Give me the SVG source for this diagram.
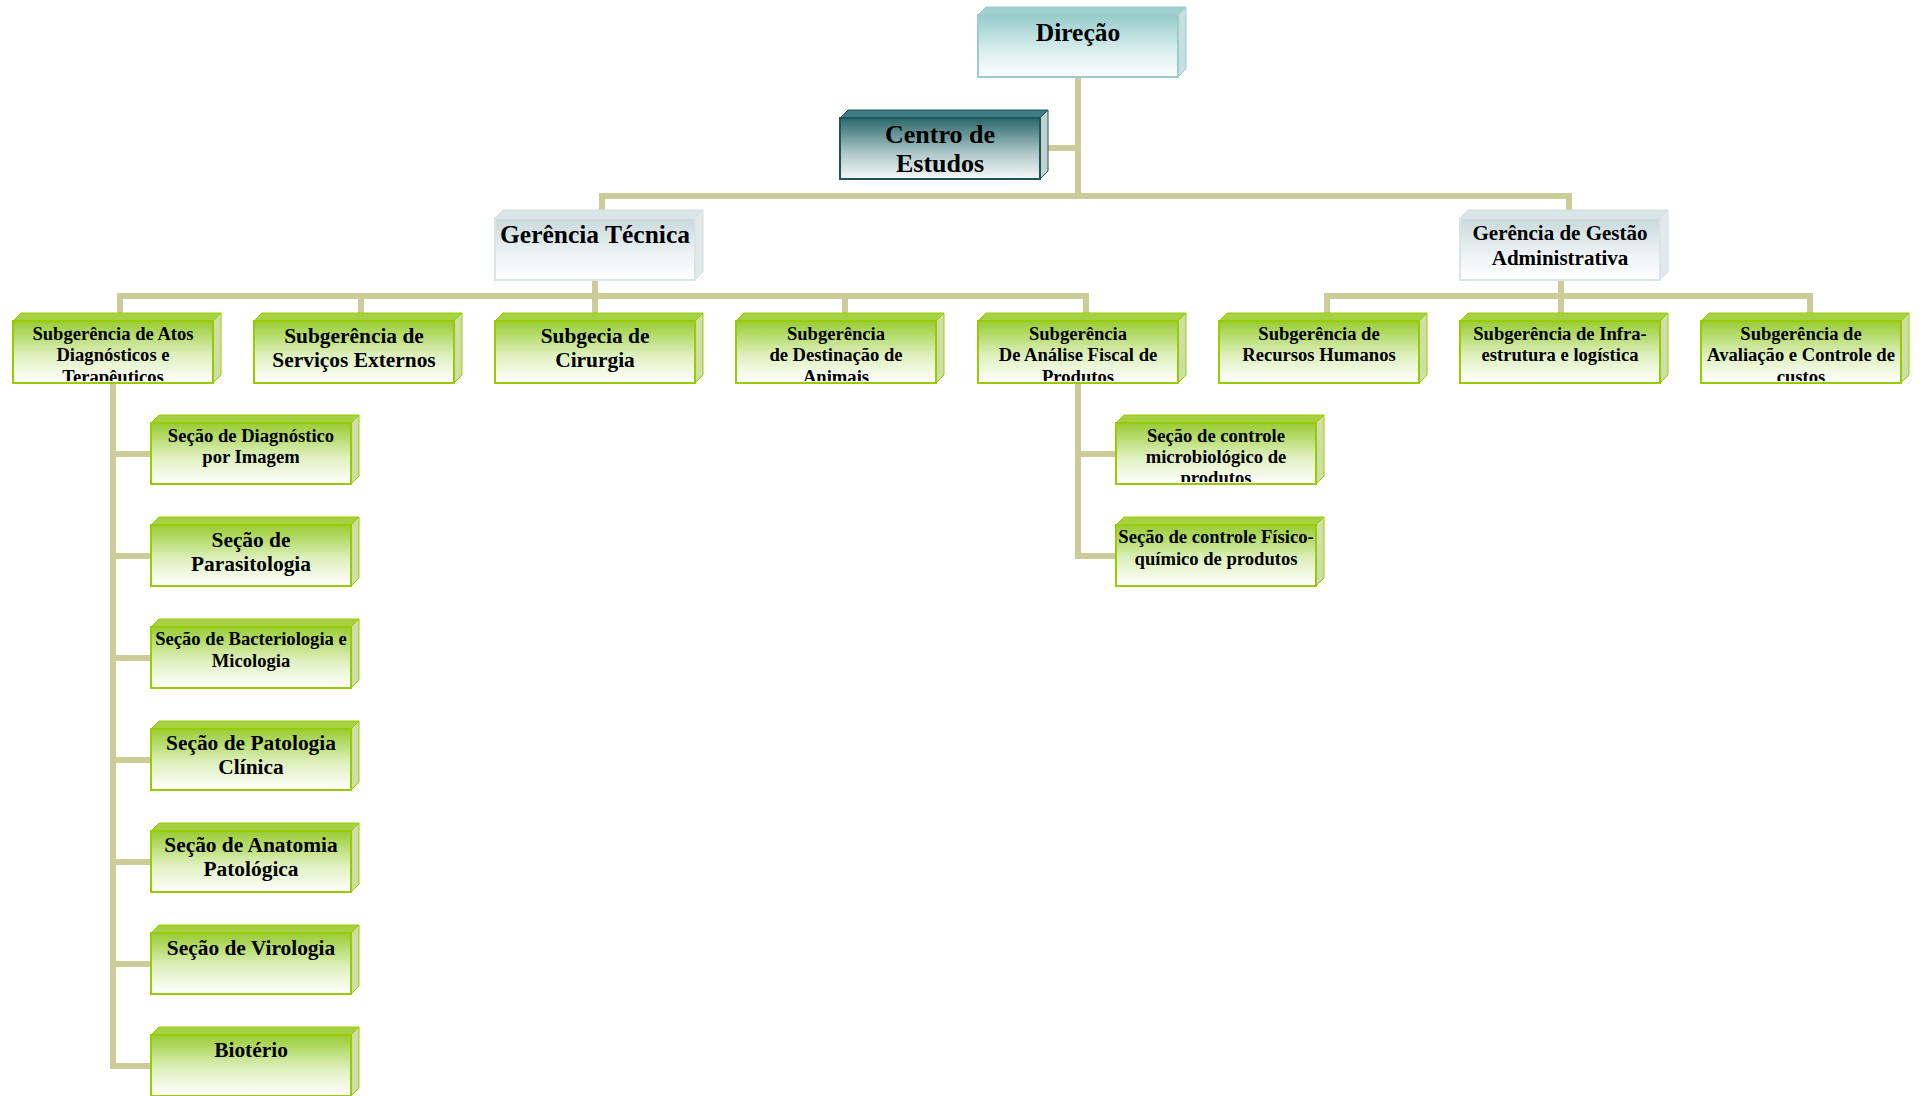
<svg xmlns="http://www.w3.org/2000/svg" width="1919" height="1096" viewBox="0 0 1919 1096">
<defs>
<linearGradient id="gGreen" x1="0" y1="0" x2="0" y2="1"><stop offset="0" stop-color="#99cc33"/><stop offset="0.55" stop-color="#def0bd"/><stop offset="1" stop-color="#ffffff"/></linearGradient>
<linearGradient id="gTeal" x1="0" y1="0" x2="0" y2="1"><stop offset="0" stop-color="#96cbcb"/><stop offset="0.6" stop-color="#dcefef"/><stop offset="1" stop-color="#ffffff"/></linearGradient>
<linearGradient id="gDark" x1="0" y1="0" x2="0" y2="1"><stop offset="0" stop-color="#2a676b"/><stop offset="0.6" stop-color="#b3cacb"/><stop offset="1" stop-color="#f6f8f8"/></linearGradient>
<linearGradient id="gGray" x1="0" y1="0" x2="0" y2="1"><stop offset="0" stop-color="#c8d9dc"/><stop offset="0.6" stop-color="#eef3f4"/><stop offset="1" stop-color="#ffffff"/></linearGradient>
<clipPath id="c1"><rect x="13" y="321" width="200" height="60"/></clipPath>
<clipPath id="c4"><rect x="736" y="321" width="200" height="60"/></clipPath>
<clipPath id="c5"><rect x="978" y="321" width="200" height="60"/></clipPath>
<clipPath id="c8"><rect x="1701" y="321" width="200" height="60"/></clipPath>
<clipPath id="cD"><rect x="1116" y="423" width="200" height="59"/></clipPath>
</defs>
<style>
.con{fill:none;stroke:#cccc99;stroke-width:6}
text{font-family:"Liberation Serif","Times New Roman",serif;font-weight:bold;fill:#000;text-anchor:middle}
.s18{font-size:18.6px}.s20{font-size:21px}.s21{font-size:21.4px}.s24{font-size:25.5px}.s26{font-size:26px}.s25{font-size:25.5px}
.gf{fill:url(#gGreen);stroke:#99cc00;stroke-width:2}
.gt{fill:#a6d143;stroke:#99cc00;stroke-width:1}
.gs{fill:#cddfa6;stroke:#99cc00;stroke-width:1}
.tf{fill:url(#gTeal);stroke:#9ccccc;stroke-width:2}
.tt{fill:#a2d0d0;stroke:#9ccccc;stroke-width:1}
.ts{fill:#c6dfdf;stroke:#9ccccc;stroke-width:1}
.df{fill:url(#gDark);stroke:#1f5659;stroke-width:2}
.dt{fill:#3d7c80;stroke:#1f5659;stroke-width:1}
.ds{fill:#c2d0d0;stroke:#1f5659;stroke-width:1}
.wf{fill:url(#gGray);stroke:#d9e4e6;stroke-width:2}
.wt{fill:#dbe5e7;stroke:#d2dee0;stroke-width:1}
.ws{fill:#e2e9ea;stroke:#d2dee0;stroke-width:1}
</style>
<rect width="1919" height="1096" fill="#ffffff"/>
<g id="connectors">
<path class="con" d="M1078 77 V196"/>
<path class="con" d="M1048 148 H1078"/>
<path class="con" d="M602 210 V196 H1569 V210"/>
<path class="con" d="M595 280 V313"/>
<path class="con" d="M120 313 V296 H1086 V313"/>
<path class="con" d="M361 296 V313"/>
<path class="con" d="M845 296 V313"/>
<path class="con" d="M1561 280 V313"/>
<path class="con" d="M1327 313 V296 H1810 V313"/>
<path class="con" d="M113 383 V1066 H151"/>
<path class="con" d="M113 454 H151 M113 556 H151 M113 658 H151 M113 760 H151 M113 862 H151 M113 964 H151"/>
<path class="con" d="M1078 383 V556 H1116"/>
<path class="con" d="M1078 454 H1116"/>
</g>
<g id="n-direcao">
<polygon class="tt" points="978,15 986,7 1186,7 1178,15"/>
<polygon class="ts" points="1178,15 1186,7 1186,69 1178,77"/>
<rect class="tf" x="978" y="15" width="200" height="62"/>
<text class="s24" x="1078" y="41">Direção</text>
</g>
<g id="n-centro">
<polygon class="dt" points="840,118 848,110 1048,110 1040,118"/>
<polygon class="ds" points="1040,118 1048,110 1048,171 1040,179"/>
<rect class="df" x="840" y="118" width="200" height="61"/>
<text class="s26" x="940" y="143">Centro de</text>
<text class="s26" x="940" y="172">Estudos</text>
</g>
<g id="n-ger-tecnica">
<polygon class="wt" points="495,218 503,210 703,210 695,218"/>
<polygon class="ws" points="695,218 703,210 703,272 695,280"/>
<rect class="wf" x="495" y="218" width="200" height="62"/>
<text class="s25" x="595" y="243">Gerência Técnica</text>
</g>
<g id="n-ger-gestao">
<polygon class="wt" points="1460,218 1468,210 1668,210 1660,218"/>
<polygon class="ws" points="1660,218 1668,210 1668,272 1660,280"/>
<rect class="wf" x="1460" y="218" width="200" height="62"/>
<text class="s20" x="1560" y="240">Gerência de Gestão</text>
<text class="s20" x="1560" y="265">Administrativa</text>
</g>
<g id="n-sub-atos">
<polygon class="gt" points="13,321 21,313 221,313 213,321"/>
<polygon class="gs" points="213,321 221,313 221,375 213,383"/>
<rect class="gf" x="13" y="321" width="200" height="62"/>
<g clip-path="url(#c1)"><text class="s18" x="113" y="340">Subgerência de Atos</text><text class="s18" x="113" y="361">Diagnósticos e</text><text class="s18" x="113" y="383">Terapêuticos</text></g>
</g>
<g id="n-sub-servicos">
<polygon class="gt" points="254,321 262,313 462,313 454,321"/>
<polygon class="gs" points="454,321 462,313 462,375 454,383"/>
<rect class="gf" x="254" y="321" width="200" height="62"/>
<text class="s21" x="354" y="343">Subgerência de</text>
<text class="s21" x="354" y="367">Serviços Externos</text>
</g>
<g id="n-sub-cirurgia">
<polygon class="gt" points="495,321 503,313 703,313 695,321"/>
<polygon class="gs" points="695,321 703,313 703,375 695,383"/>
<rect class="gf" x="495" y="321" width="200" height="62"/>
<text class="s21" x="595" y="343">Subgecia de</text>
<text class="s21" x="595" y="367">Cirurgia</text>
</g>
<g id="n-sub-destinacao">
<polygon class="gt" points="736,321 744,313 944,313 936,321"/>
<polygon class="gs" points="936,321 944,313 944,375 936,383"/>
<rect class="gf" x="736" y="321" width="200" height="62"/>
<g clip-path="url(#c4)"><text class="s18" x="836" y="340">Subgerência</text><text class="s18" x="836" y="361">de Destinação de</text><text class="s18" x="836" y="383">Animais</text></g>
</g>
<g id="n-sub-analise">
<polygon class="gt" points="978,321 986,313 1186,313 1178,321"/>
<polygon class="gs" points="1178,321 1186,313 1186,375 1178,383"/>
<rect class="gf" x="978" y="321" width="200" height="62"/>
<g clip-path="url(#c5)"><text class="s18" x="1078" y="340">Subgerência</text><text class="s18" x="1078" y="361">De Análise Fiscal de</text><text class="s18" x="1078" y="383">Produtos</text></g>
</g>
<g id="n-sub-rh">
<polygon class="gt" points="1219,321 1227,313 1427,313 1419,321"/>
<polygon class="gs" points="1419,321 1427,313 1427,375 1419,383"/>
<rect class="gf" x="1219" y="321" width="200" height="62"/>
<text class="s18" x="1319" y="340">Subgerência de</text>
<text class="s18" x="1319" y="361">Recursos Humanos</text>
</g>
<g id="n-sub-infra">
<polygon class="gt" points="1460,321 1468,313 1668,313 1660,321"/>
<polygon class="gs" points="1660,321 1668,313 1668,375 1660,383"/>
<rect class="gf" x="1460" y="321" width="200" height="62"/>
<text class="s18" x="1560" y="340">Subgerência de Infra-</text>
<text class="s18" x="1560" y="361">estrutura e logística</text>
</g>
<g id="n-sub-avaliacao">
<polygon class="gt" points="1701,321 1709,313 1909,313 1901,321"/>
<polygon class="gs" points="1901,321 1909,313 1909,375 1901,383"/>
<rect class="gf" x="1701" y="321" width="200" height="62"/>
<g clip-path="url(#c8)"><text class="s18" x="1801" y="340">Subgerência de</text><text class="s18" x="1801" y="361">Avaliação e Controle de</text><text class="s18" x="1801" y="383">custos</text></g>
</g>
<g id="n-sec-imagem">
<polygon class="gt" points="151,423 159,415 359,415 351,423"/>
<polygon class="gs" points="351,423 359,415 359,476 351,484"/>
<rect class="gf" x="151" y="423" width="200" height="61"/>
<text class="s18" x="251" y="442">Seção de Diagnóstico</text>
<text class="s18" x="251" y="463">por Imagem</text>
</g>
<g id="n-sec-parasitologia">
<polygon class="gt" points="151,525 159,517 359,517 351,525"/>
<polygon class="gs" points="351,525 359,517 359,578 351,586"/>
<rect class="gf" x="151" y="525" width="200" height="61"/>
<text class="s21" x="251" y="547">Seção de</text>
<text class="s21" x="251" y="571">Parasitologia</text>
</g>
<g id="n-sec-bacteriologia">
<polygon class="gt" points="151,627 159,619 359,619 351,627"/>
<polygon class="gs" points="351,627 359,619 359,680 351,688"/>
<rect class="gf" x="151" y="627" width="200" height="61"/>
<text class="s18" x="251" y="645">Seção de Bacteriologia e</text>
<text class="s18" x="251" y="667">Micologia</text>
</g>
<g id="n-sec-patologia">
<polygon class="gt" points="151,729 159,721 359,721 351,729"/>
<polygon class="gs" points="351,729 359,721 359,782 351,790"/>
<rect class="gf" x="151" y="729" width="200" height="61"/>
<text class="s21" x="251" y="750">Seção de Patologia</text>
<text class="s21" x="251" y="774">Clínica</text>
</g>
<g id="n-sec-anatomia">
<polygon class="gt" points="151,831 159,823 359,823 351,831"/>
<polygon class="gs" points="351,831 359,823 359,884 351,892"/>
<rect class="gf" x="151" y="831" width="200" height="61"/>
<text class="s21" x="251" y="852">Seção de Anatomia</text>
<text class="s21" x="251" y="876">Patológica</text>
</g>
<g id="n-sec-virologia">
<polygon class="gt" points="151,933 159,925 359,925 351,933"/>
<polygon class="gs" points="351,933 359,925 359,986 351,994"/>
<rect class="gf" x="151" y="933" width="200" height="61"/>
<text class="s21" x="251" y="955">Seção de Virologia</text>
</g>
<g id="n-bioterio">
<polygon class="gt" points="151,1035 159,1027 359,1027 351,1035"/>
<polygon class="gs" points="351,1035 359,1027 359,1088 351,1096"/>
<rect class="gf" x="151" y="1035" width="200" height="61"/>
<text class="s21" x="251" y="1057">Biotério</text>
</g>
<g id="n-sec-microbiologico">
<polygon class="gt" points="1116,423 1124,415 1324,415 1316,423"/>
<polygon class="gs" points="1316,423 1324,415 1324,476 1316,484"/>
<rect class="gf" x="1116" y="423" width="200" height="61"/>
<g clip-path="url(#cD)"><text class="s18" x="1216" y="442">Seção de controle</text><text class="s18" x="1216" y="463">microbiológico de</text><text class="s18" x="1216" y="484">produtos</text></g>
</g>
<g id="n-sec-fisicoquimico">
<polygon class="gt" points="1116,525 1124,517 1324,517 1316,525"/>
<polygon class="gs" points="1316,525 1324,517 1324,578 1316,586"/>
<rect class="gf" x="1116" y="525" width="200" height="61"/>
<text class="s18" x="1216" y="543">Seção de controle Físico-</text>
<text class="s18" x="1216" y="565">químico de produtos</text>
</g>
</svg>
